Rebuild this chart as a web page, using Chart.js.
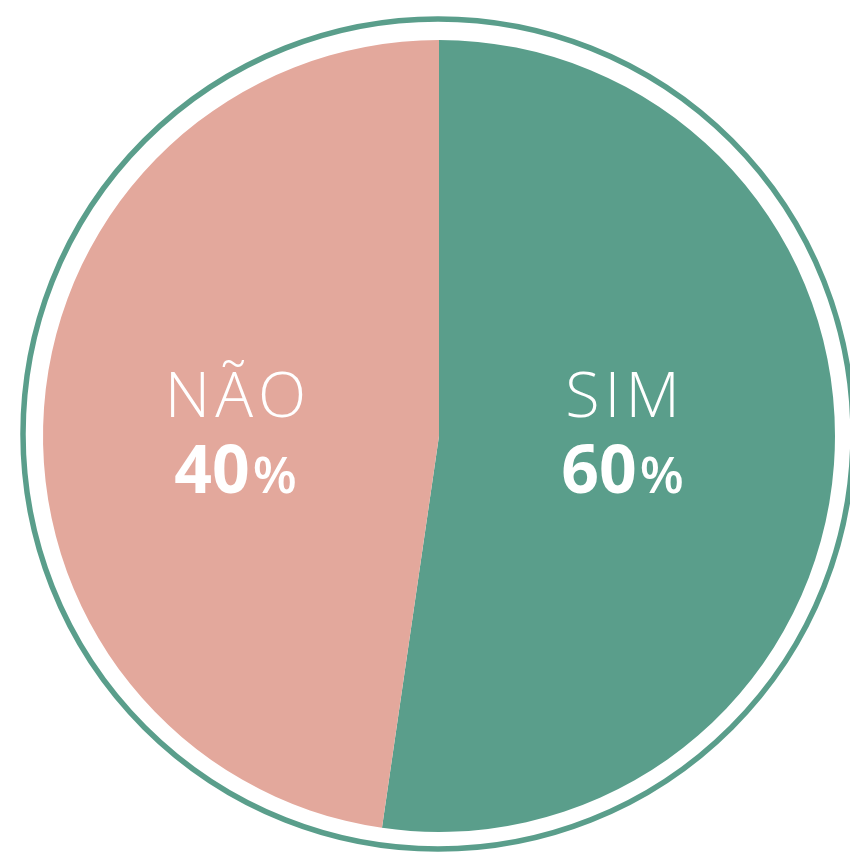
<!DOCTYPE html>
<html>
<head>
<meta charset="utf-8">
<script src="https://cdn.jsdelivr.net/npm/chart.js@4"></script>
<style>
  html, body { margin: 0; padding: 0; background: #ffffff; }
  #wrap { width: 850px; height: 852px; position: relative; }
</style>
</head>
<body>
<div id="wrap"><canvas id="c" width="850" height="852"></canvas></div>
<script>
// Categories and values (slice sizes; printed labels as shown)
const categories = ["SIM", "NÃO"];
const sliceValues = [52.3, 47.7];
const printedPercents = ["60", "40"];
const sliceColors = ["#5a9e8b", "#e3a89c"];
const ringColor = "#5a9e8b";

const ringPlugin = {
  id: 'ring',
  afterDatasetsDraw(chart) {
    const arc = chart.getDatasetMeta(0).data[0];
    if (!arc) return;
    const ctx = chart.ctx;
    ctx.save();
    ctx.beginPath();
    ctx.arc(arc.x - 1, arc.y - 2, arc.outerRadius + 19, 0, Math.PI * 2);
    ctx.lineWidth = 5.5;
    ctx.strokeStyle = ringColor;
    ctx.stroke();
    ctx.restore();
  }
};

const labelPlugin = {
  id: 'sliceLabels',
  afterDatasetsDraw(chart) {
    const meta = chart.getDatasetMeta(0);
    const ctx = chart.ctx;
    ctx.save();
    ctx.fillStyle = '#ffffff';
    ctx.textBaseline = 'alphabetic';
    meta.data.forEach((arc, i) => {
      const mid = (arc.startAngle + arc.endAngle) / 2;
      const cx = arc.x + Math.cos(mid) * arc.outerRadius * 0.49 - 10;
      const cy = arc.y;
      // name
      ctx.font = '300 63px "Open Sans", "Noto Sans", sans-serif';
      ctx.letterSpacing = '5px';
      ctx.textAlign = 'center';
      ctx.fillText(categories[i], cx + 2.5, cy - 19);
      ctx.letterSpacing = '0px';
      // number + percent
      const numFont = '700 66px "Open Sans", "Noto Sans", sans-serif';
      const pctFont = '600 51px "Open Sans", "Noto Sans", sans-serif';
      ctx.font = numFont;
      const wn = ctx.measureText(printedPercents[i]).width;
      ctx.font = pctFont;
      const wp = ctx.measureText('%').width;
      const gap = 3;
      const x0 = cx - (wn + wp + gap) / 2;
      ctx.textAlign = 'left';
      ctx.font = numFont;
      ctx.fillText(printedPercents[i], x0, cy + 57);
      ctx.font = pctFont;
      ctx.fillText('%', x0 + wn + gap, cy + 57);
    });
    ctx.restore();
  }
};

new Chart(document.getElementById('c'), {
  type: 'pie',
  data: {
    labels: categories,
    datasets: [{
      data: sliceValues,
      backgroundColor: sliceColors,
      borderWidth: 0
    }]
  },
  options: {
    responsive: false,
    animation: false,
    layout: { padding: { left: 43, right: 15, top: 40, bottom: 20 } },
    plugins: {
      legend: { display: false },
      tooltip: { enabled: false }
    }
  },
  plugins: [ringPlugin, labelPlugin]
});
</script>
</body>
</html>
